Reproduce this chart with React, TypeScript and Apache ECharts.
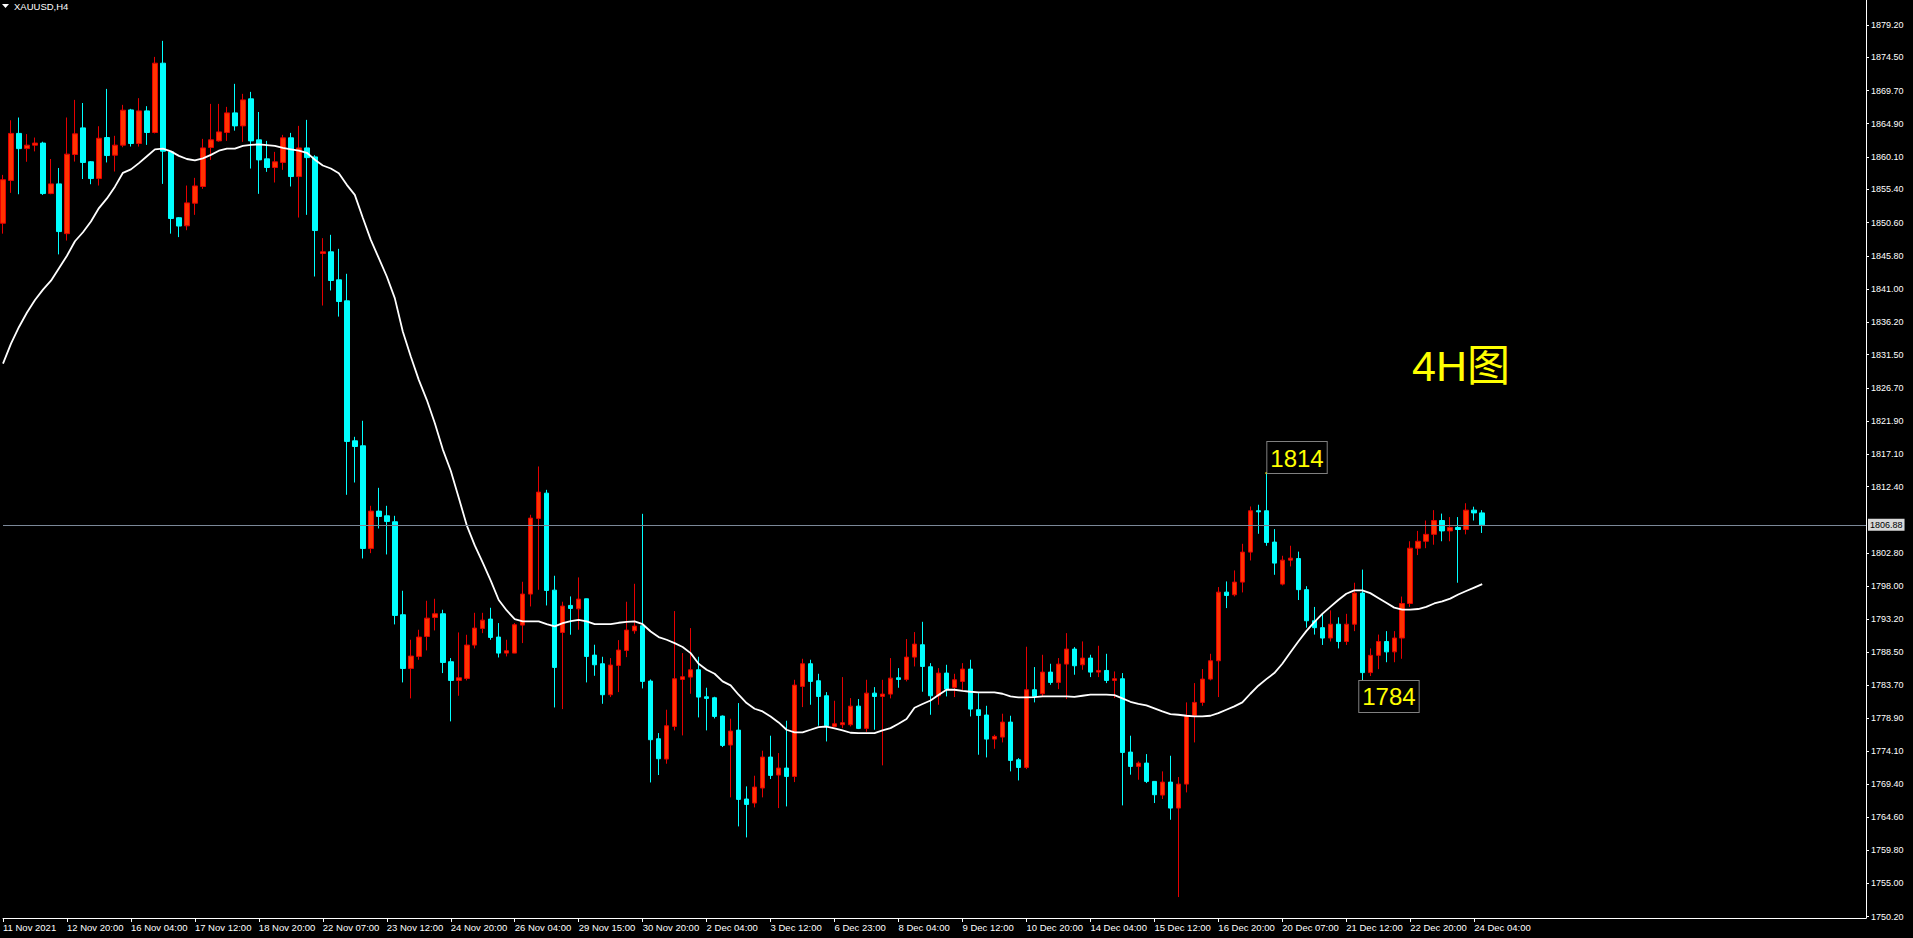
import React, { useEffect, useRef } from "react";
import * as echarts from "echarts";

const timeLabels = ["11 Nov 2021","12 Nov 20:00","16 Nov 04:00","17 Nov 12:00","18 Nov 20:00","22 Nov 07:00","23 Nov 12:00","24 Nov 20:00","26 Nov 04:00","29 Nov 15:00","30 Nov 20:00","2 Dec 04:00","3 Dec 12:00","6 Dec 23:00","8 Dec 04:00","9 Dec 12:00","10 Dec 20:00","14 Dec 04:00","15 Dec 12:00","16 Dec 20:00","20 Dec 07:00","21 Dec 12:00","22 Dec 20:00","24 Dec 04:00"];

const priceTicks = [1879.2,1874.5,1869.7,1864.9,1860.1,1855.4,1850.6,1845.8,1841.0,1836.2,1831.5,1826.7,1821.9,1817.1,1812.4,1802.8,1798.0,1793.2,1788.5,1783.7,1778.9,1774.1,1769.4,1764.6,1759.8,1755.0,1750.2];

const opens = [1850.5,1856.7,1863.5,1861.3,1861.8,1862.1,1854.8,1856.2,1849.0,1860.45,1864.3,1859.4,1856.97,1862.9,1860.35,1861.8,1866.9,1862.04,1866.76,1863.63,1873.66,1860.83,1851.3,1850.13,1853.4,1855.82,1861.46,1862.42,1863.63,1866.47,1864.59,1868.5,1862.57,1859.82,1858.57,1859.3,1862.86,1857.26,1861.4,1860.1,1846.13,1846.37,1842.32,1839.28,1819.03,1818.31,1803.46,1808.86,1808.18,1807.32,1793.87,1786.1,1787.84,1790.73,1793.48,1794.01,1787.07,1784.37,1784.66,1789.48,1791.89,1793.24,1790.64,1788.32,1788.32,1792.37,1796.86,1807.8,1811.46,1797.43,1791.31,1795.22,1794.73,1796.18,1788.03,1786.78,1782.3,1786.54,1788.71,1791.55,1792.28,1784.27,1775.93,1772.99,1777.72,1784.51,1784.85,1785.91,1782.0,1781.86,1779.21,1775.02,1777.18,1767.21,1766.63,1768.8,1773.28,1770.68,1771.69,1770.48,1783.5,1786.78,1784.32,1782.15,1777.72,1777.96,1777.96,1780.65,1777.43,1782.53,1782.05,1782.39,1784.75,1784.51,1787.74,1789.53,1786.34,1782.15,1785.43,1783.36,1784.23,1786.01,1780.13,1779.36,1775.88,1776.17,1778.34,1772.89,1771.78,1783.02,1782.44,1785.57,1784.08,1786.73,1788.9,1786.63,1787.6,1785.57,1785.81,1784.37,1784.61,1774.0,1771.93,1772.41,1769.76,1767.78,1769.66,1765.9,1769.37,1779.3,1781.19,1784.56,1787.21,1797.14,1796.76,1798.59,1802.93,1808.91,1808.91,1804.38,1798.3,1801.77,1802.0,1797.5,1793.0,1792.0,1790.5,1792.5,1790.0,1792.5,1797.0,1785.5,1788.0,1790.0,1788.5,1790.5,1795.5,1803.5,1804.5,1805.5,1807.5,1806.0,1806.5,1806.2,1809.0,1808.6];
const closes = [1856.8,1863.5,1861.3,1861.8,1862.1,1854.8,1856.2,1849.3,1860.5,1863.44,1859.3,1856.97,1862.8,1860.3,1861.8,1866.86,1862.04,1866.76,1863.63,1873.66,1860.93,1851.19,1850.1,1853.45,1855.9,1861.4,1862.57,1863.72,1866.47,1864.59,1868.35,1862.42,1859.67,1858.57,1859.39,1862.86,1857.26,1861.4,1860.0,1849.45,1846.37,1842.22,1839.18,1818.94,1818.21,1803.46,1808.86,1808.09,1807.37,1793.77,1786.1,1787.89,1790.64,1793.38,1794.01,1786.97,1784.37,1784.75,1789.48,1791.94,1793.09,1790.59,1788.32,1788.66,1792.42,1796.86,1807.85,1811.61,1797.38,1786.25,1795.12,1794.78,1796.13,1787.84,1786.63,1782.3,1786.59,1788.76,1791.65,1792.23,1784.23,1775.79,1773.04,1777.81,1784.61,1784.9,1785.91,1781.96,1781.77,1779.16,1774.97,1777.04,1767.16,1766.43,1768.94,1773.28,1770.63,1771.69,1770.48,1783.69,1786.78,1784.23,1782.05,1777.81,1778.1,1778.25,1780.65,1777.43,1782.53,1782.05,1782.39,1784.7,1784.51,1787.74,1789.62,1786.39,1782.15,1785.43,1783.11,1784.46,1786.01,1780.22,1779.3,1775.88,1776.27,1778.34,1772.8,1771.78,1783.02,1782.05,1785.57,1784.08,1786.73,1788.9,1786.49,1787.6,1785.57,1785.81,1784.37,1784.61,1773.95,1771.93,1772.41,1769.76,1767.83,1769.66,1765.9,1769.37,1779.3,1781.19,1784.56,1787.21,1797.14,1796.66,1798.59,1802.93,1808.91,1808.76,1804.33,1801.34,1801.77,1802.06,1797.5,1793.0,1792.0,1790.5,1792.5,1790.0,1792.5,1797.0,1785.5,1788.0,1790.0,1788.5,1790.5,1795.5,1803.5,1804.5,1805.5,1807.5,1806.0,1806.5,1806.2,1809.0,1808.6,1806.88];
const lows = [1849.0,1854.9,1854.7,1859.4,1860.9,1854.6,1854.7,1846.0,1848.0,1859.43,1856.9,1856.15,1855.96,1859.3,1857.99,1861.5,1861.6,1861.6,1861.84,1863.5,1856.2,1849.0,1848.5,1849.5,1851.72,1855.48,1859.67,1862.3,1862.42,1863.9,1862.28,1858.42,1854.76,1857.94,1856.4,1858.23,1855.82,1851.33,1851.72,1842.8,1838.6,1840.78,1837.0,1811.22,1813.0,1802.01,1802.78,1806.35,1802.59,1792.47,1784.08,1781.77,1787.36,1788.71,1791.6,1785.43,1778.44,1782.15,1784.37,1789.0,1791.21,1790.25,1787.69,1787.84,1788.3,1789.77,1795.07,1797.48,1795.21,1780.46,1780.22,1790.98,1791.7,1784.08,1785.04,1780.99,1781.96,1782.68,1787.74,1791.12,1783.21,1769.61,1770.68,1772.32,1777.14,1776.41,1782.44,1779.02,1777.14,1778.87,1774.73,1767.45,1763.25,1761.66,1766.0,1767.45,1770.1,1765.9,1766.14,1769.66,1780.51,1780.85,1777.81,1775.54,1777.62,1777.47,1777.72,1777.33,1776.94,1777.23,1772.08,1781.77,1783.31,1784.23,1786.39,1782.73,1779.4,1780.85,1782.05,1781.96,1782.92,1779.16,1773.62,1773.23,1774.48,1775.4,1771.21,1769.9,1771.54,1781.19,1782.05,1783.74,1783.11,1781.67,1785.19,1785.91,1784.85,1784.85,1783.98,1781.81,1766.29,1770.73,1770.0,1769.52,1766.63,1767.21,1764.21,1753.03,1768.17,1775.4,1780.7,1784.37,1781.96,1794.83,1796.52,1797.1,1801.72,1805.58,1803.85,1799.65,1798.11,1800.86,1796.0,1792.0,1791.0,1789.5,1790.0,1789.0,1789.5,1791.5,1784.3,1785.0,1786.0,1787.0,1787.0,1787.5,1795.0,1802.5,1803.5,1804.0,1804.5,1804.5,1798.5,1805.5,1807.5,1805.7];
const highs = [1857.5,1865.4,1865.8,1863.4,1862.9,1862.3,1859.8,1858.5,1865.8,1868.35,1867.9,1859.5,1864.54,1869.94,1863.15,1867.63,1867.05,1868.6,1867.44,1874.57,1876.89,1860.9,1851.4,1855.96,1857.07,1862.71,1867.77,1867.77,1867.34,1870.67,1869.22,1869.51,1866.6,1862.42,1860.83,1863.29,1863.58,1864.59,1865.46,1860.35,1848.35,1848.83,1846.8,1843.19,1819.61,1821.93,1809.63,1812.23,1809.63,1808.18,1797.34,1790.25,1791.7,1795.89,1796.18,1794.59,1787.6,1791.31,1790.97,1794.15,1794.15,1794.88,1792.66,1790.25,1792.66,1798.64,1808.33,1815.32,1811.94,1799.51,1795.75,1796.52,1799.27,1796.2,1789.53,1787.79,1787.6,1790.2,1795.75,1798.35,1808.47,1784.51,1776.75,1780.13,1794.4,1788.32,1791.94,1787.79,1783.31,1782.0,1779.3,1778.83,1781.09,1769.04,1770.58,1774.2,1776.37,1773.86,1778.54,1784.46,1787.5,1787.36,1785.33,1782.68,1781.43,1784.85,1781.81,1781.67,1784.46,1783.4,1784.46,1787.6,1786.15,1790.35,1791.36,1792.85,1786.87,1786.15,1786.63,1785.33,1786.87,1787.36,1782.53,1780.7,1776.51,1779.55,1779.26,1773.13,1789.24,1786.3,1788.08,1786.78,1787.6,1791.21,1789.19,1790.01,1788.08,1789.38,1788.22,1785.67,1785.43,1776.37,1772.65,1773.71,1769.8,1771.21,1773.47,1770.39,1781.19,1783.98,1786.01,1788.22,1797.87,1798.69,1800.28,1804.13,1809.53,1809.78,1814.36,1806.26,1802.4,1803.85,1803.0,1798.0,1795.0,1794.0,1794.5,1793.5,1794.0,1798.5,1800.4,1789.0,1791.0,1791.5,1791.5,1796.5,1804.5,1806.0,1807.5,1809.0,1808.5,1808.0,1808.0,1810.0,1809.5,1809.0];
const maValues = [1830.2,1833.1,1835.5,1837.6,1839.4,1840.9,1842.2,1844.0,1845.8,1847.9,1849.2,1850.75,1852.7,1854.1,1855.8,1857.8,1858.3,1859.2,1860.2,1861.2,1861.3,1860.9,1860.25,1859.8,1859.6,1859.9,1860.4,1861.0,1861.3,1861.3,1861.7,1861.85,1861.9,1861.8,1861.7,1861.4,1861.2,1861.0,1860.7,1859.7,1858.86,1858.42,1857.75,1856.06,1854.61,1851.3,1848.1,1845.45,1842.8,1839.67,1834.85,1831.23,1827.85,1824.96,1821.6,1817.8,1814.7,1810.8,1806.8,1803.9,1801.4,1798.8,1796.0,1794.49,1793.24,1792.9,1792.9,1792.9,1792.5,1792.18,1792.66,1792.95,1793.14,1792.9,1792.5,1792.5,1792.5,1792.71,1792.85,1792.9,1792.5,1791.45,1790.64,1790.25,1789.77,1789.2,1788.32,1786.78,1785.91,1785.33,1784.23,1783.65,1782.3,1781.09,1780.27,1779.88,1779.16,1778.29,1777.23,1776.85,1776.85,1777.23,1777.62,1777.7,1777.42,1777.13,1776.8,1776.75,1776.75,1776.75,1777.13,1777.47,1778.1,1778.78,1780.41,1780.95,1781.47,1782.25,1783.02,1783.02,1782.87,1782.73,1782.63,1782.63,1782.63,1782.44,1782.05,1781.91,1781.91,1781.96,1782.05,1782.05,1782.05,1782.05,1782.0,1782.15,1782.3,1782.3,1782.3,1782.25,1781.77,1781.28,1780.99,1780.75,1780.32,1779.88,1779.5,1779.4,1779.26,1779.16,1779.16,1779.26,1779.64,1780.13,1780.61,1781.19,1782.44,1783.6,1784.56,1785.43,1786.78,1788.42,1790.0,1791.5,1792.8,1794.0,1795.0,1796.0,1796.9,1797.4,1797.4,1797.0,1796.3,1795.6,1794.9,1794.6,1794.6,1794.7,1795.0,1795.5,1795.8,1796.2,1796.8,1797.3,1797.8,1798.3];

const currentPrice = 1806.88;
const annotations = [
  { index: 158, price: 1814.36, text: "1814" },
  { index: 170, price: 1784.3, text: "1784" },
];

const SLOT_COUNT = 234;

export default function App() {
  const ref = useRef<HTMLDivElement>(null);
  useEffect(() => {
    if (!ref.current) return;
    const chart = echarts.init(ref.current, undefined, { renderer: "svg" });
    const categories = Array.from({ length: SLOT_COUNT }, (_, i) => String(i));
    const showTick = (idx: number) => idx % 8 === 0 && idx / 8 < timeLabels.length;
    const candles = opens.map((o, i) => [o, closes[i], lows[i], highs[i]]);
    const font = "'Liberation Sans', Arial, sans-serif";
    chart.setOption({
      animation: false,
      backgroundColor: "#000000",
      grid: { left: -1, right: 47, top: 0, height: 918, containLabel: false },
      xAxis: {
        type: "category",
        data: categories,
        boundaryGap: false,
        axisLine: { lineStyle: { color: "#ffffff", width: 1 } },
        axisTick: { show: true, length: 4, interval: (idx: number) => showTick(idx), lineStyle: { color: "#ffffff" } },
        axisLabel: {
          interval: (idx: number) => showTick(idx),
          formatter: (_v: string, idx: number) => timeLabels[idx / 8] ?? "",
          color: "#ffffff",
          fontSize: 9.5,
          fontFamily: font,
          align: "left",
          margin: 4,
        },
        splitLine: { show: false },
      },
      yAxis: {
        type: "value",
        position: "right",
        min: 1750.0,
        max: 1882.8,
        scale: true,
        axisLine: { show: true, lineStyle: { color: "#ffffff", width: 1 } },
        axisTick: { show: true, length: 3, customValues: priceTicks, lineStyle: { color: "#ffffff" } },
        axisLabel: {
          customValues: priceTicks,
          formatter: (v: number) => v.toFixed(2),
          color: "#ffffff",
          fontSize: 9,
          fontFamily: font,
          margin: 5,
        },
        splitLine: { show: false },
      },
      graphic: [
        { type: "polygon", shape: { points: [[2, 4], [9, 4], [5.5, 8]] }, style: { fill: "#ffffff" } },
        { type: "text", left: 14, top: 1, style: { text: "XAUUSD,H4", fill: "#ffffff", font: `9.5px ${font}` } },
        { type: "text", left: 1412, top: 344, style: { text: "4H图", fill: "#ffff00", font: `43px 'Liberation Sans', 'Noto Sans CJK SC', sans-serif` } },
      ],
      series: [
        {
          type: "candlestick",
          data: candles,
          barWidth: 5,
          itemStyle: {
            color: "#ff3300",
            color0: "#00ffff",
            borderColor: "#e60000",
            borderColor0: "#00ffff",
            borderWidth: 1,
          },
          markLine: {
            silent: true,
            symbol: ["none", "none"],
            lineStyle: { color: "#7b8898", width: 1, type: "solid" },
            label: {
              show: true,
              position: "end",
              formatter: currentPrice.toFixed(2),
              backgroundColor: "#d8d8d8",
              color: "#000000",
              fontSize: 9,
              fontFamily: font,
              padding: [2, 2, 1, 2],
              distance: 2,
            },
            data: [{ yAxis: currentPrice }],
          },
          markPoint: {
            symbol: "circle",
            symbolSize: 2,
            itemStyle: { color: "#ffff00" },
            data: annotations.map((a, k) => ({
              coord: [a.index, a.price],
              value: a.text,
              label: {
                show: true,
                formatter: a.text,
                position: k === 0 ? [2, 1] : [-2, 1],
                align: "left",
                verticalAlign: k === 0 ? "bottom" : "top",
                color: "#ffff00",
                fontSize: 24,
                fontFamily: font,
                lineHeight: 24,
                backgroundColor: "#000000",
                borderColor: "#808080",
                borderWidth: 1,
                padding: [4, 3, 3, 3],
              },
            })),
          },
        },
        {
          type: "line",
          data: maValues,
          showSymbol: false,
          symbol: "none",
          smooth: false,
          lineStyle: { color: "#ffffff", width: 1.8 },
          z: 3,
        },
      ],
    });
    return () => chart.dispose();
  }, []);
  return <div ref={ref} style={{ position: "fixed", left: 0, top: 0, width: 1913, height: 938, background: "#000" }} />;
}
